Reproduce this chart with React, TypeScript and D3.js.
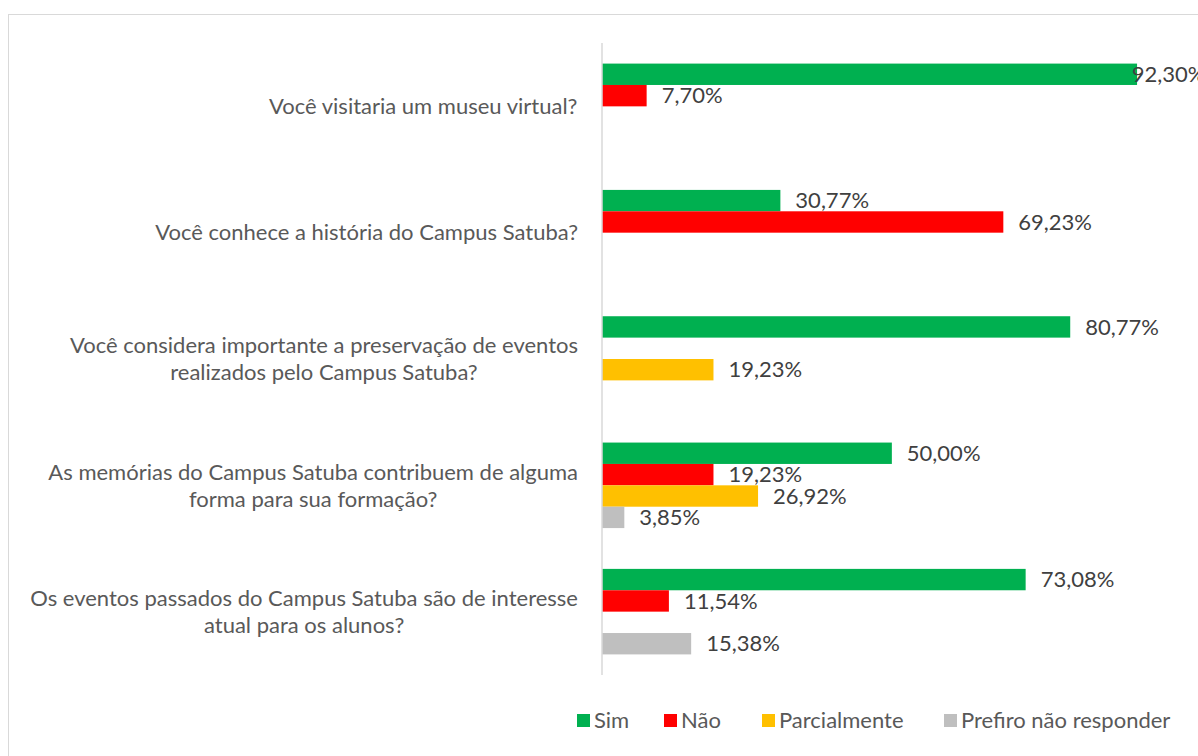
import React from "react";
import * as d3 from "d3";

const categories: string[][] = [
  ["Você visitaria um museu virtual?"],
  ["Você conhece a história do Campus Satuba?"],
  ["Você considera importante a preservação de eventos", "realizados pelo Campus Satuba?"],
  ["As memórias do Campus Satuba contribuem de alguma", "forma para sua formação?"],
  ["Os eventos passados do Campus Satuba são de interesse", "atual para os alunos?"],
];
const seriesNames = ["Sim", "Não", "Parcialmente", "Prefiro não responder"];
const seriesColors = ["#00B050", "#FF0000", "#FFC000", "#BFBFBF"];
const sim: (number | null)[] = [92.3, 30.77, 80.77, 50.0, 73.08];
const nao: (number | null)[] = [7.7, 69.23, null, 19.23, 11.54];
const parcialmente: (number | null)[] = [null, null, 19.23, 26.92, null];
const prefiro: (number | null)[] = [null, null, null, 3.85, 15.38];
const seriesValues = [sim, nao, parcialmente, prefiro];

const FONT = "Lato, 'Open Sans', sans-serif";
const FS = 22;

let ctx: CanvasRenderingContext2D | null = null;
function measure(t: string): number {
  if (!ctx && typeof document !== "undefined") {
    ctx = document.createElement("canvas").getContext("2d");
  }
  if (!ctx) return t.length * FS * 0.5;
  ctx.font = `${FS}px Lato`;
  return ctx.measureText(t).width;
}

export default function App() {
  const W = 1198, H = 756;
  const x = d3.scaleLinear().domain([0, 100]).range([602, 1181.7]);
  const catIdx = categories.map((_, i) => String(i));
  const y = d3.scaleBand().domain(catIdx).range([43, 675]).paddingInner(0.323).paddingOuter(0.163);
  const ys = d3.scaleBand().domain(seriesNames).range([0, y.bandwidth()]);
  const fmt = (v: number) => v.toFixed(2).replace(".", ",") + "%";

  const legendX = [577, 664, 762, 944];
  const labelRight = 578;

  return (
    <svg width={W} height={H} style={{ position: "absolute", left: 0, top: 0, background: "#fff" }}>
      <rect x={8.5} y={14.5} width={1300} height={900} fill="#fff" stroke="#d9d9d9" strokeWidth={1} />
      {catIdx.map((c, i) => {
        const lines = categories[i];
        const cy = (y(c) as number) + y.bandwidth() / 2;
        const lh = 27;
        const blockW = Math.max(...lines.map(measure));
        const cx = labelRight - blockW / 2;
        return (
          <text key={c} fontFamily={FONT} fontSize={FS} fill="#595959" textAnchor="middle">
            {lines.map((ln, k) => (
              <tspan key={k} x={cx} y={cy + (k - (lines.length - 1) / 2) * lh} dy="0.35em">
                {ln}
              </tspan>
            ))}
          </text>
        );
      })}
      {seriesValues.map((vals, s) =>
        vals.map((v, i) => {
          if (v === null) return null;
          const by = (y(String(i)) as number) + (ys(seriesNames[s]) as number);
          const bh = ys.bandwidth();
          const x1 = x(v);
          const lx = Math.min(x1 + 15, x(100) - 50);
          return (
            <g key={`${s}-${i}`}>
              <rect x={x(0)} y={by} width={x1 - x(0)} height={bh} fill={seriesColors[s]} />
              <text x={lx} y={by + bh / 2} dy="0.35em" fontFamily={FONT} fontSize={FS} fill="#404040">
                {fmt(v)}
              </text>
            </g>
          );
        })
      )}
      <line x1={x(0)} x2={x(0)} y1={43} y2={675} stroke="#d9d9d9" strokeWidth={1.5} />
      {seriesNames.map((n, s) => (
        <g key={n}>
          <rect x={legendX[s]} y={714} width={13} height={13} fill={seriesColors[s]} />
          <text x={legendX[s] + 17} y={720.5} dy="0.35em" fontFamily={FONT} fontSize={FS} fill="#595959">
            {n}
          </text>
        </g>
      ))}
    </svg>
  );
}
